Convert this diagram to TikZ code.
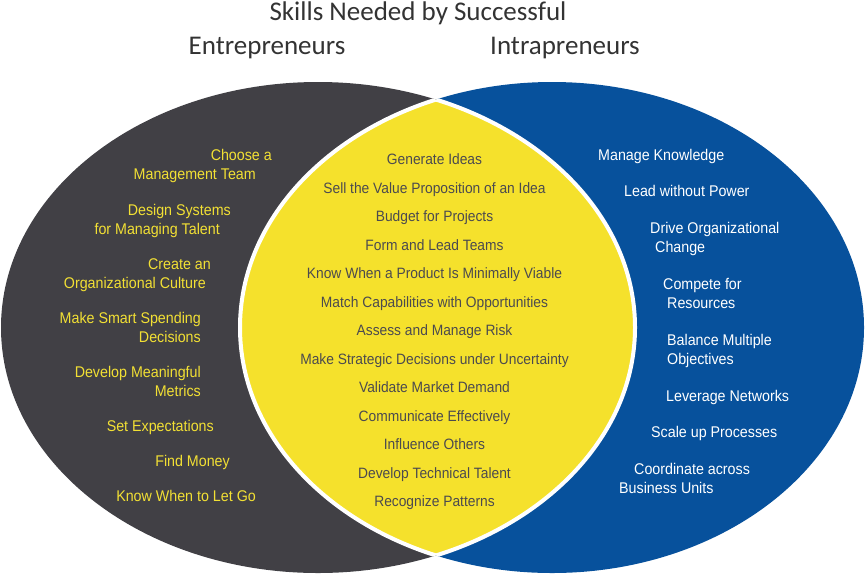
\documentclass[tikz,border=0pt]{standalone}
\usepackage{fontspec}
\setmainfont{Liberation Sans}[FakeStretch=0.92]
\newfontfamily\headfont{Carlito}
\usepackage{xcolor}
\usepackage{tikz}
\definecolor{darkslate}{HTML}{414045}
\definecolor{intrablue}{HTML}{07519C}
\definecolor{lensyellow}{HTML}{F5E12C}
\definecolor{labelyellow}{HTML}{F2E034}
\definecolor{lenstext}{HTML}{4B4A4F}
\definecolor{headgray}{HTML}{333333}

\begin{document}
\begin{tikzpicture}[x=1pt, y=-1pt]
\tikzstyle{heading} = [inner sep=0pt, text=headgray, font=\headfont\fontsize{27}{30}\selectfont]
\tikzstyle{skill}   = [inner sep=0pt, font=\fontsize{15.5}{18}\selectfont]
\tikzstyle{entre}   = [skill, text=labelyellow, anchor=base east]
\tikzstyle{intra}   = [skill, text=white, anchor=base west]
\tikzstyle{both}    = [skill, text=lenstext, anchor=base, font=\fontsize{15}{18}\selectfont]
\useasboundingbox (0,0) rectangle (866,576);
 %%Ovals
\fill[darkslate] (318,327.5) ellipse [x radius=317pt, y radius=245.5pt];
\fill[intrablue] (552,327.5) ellipse [x radius=312pt, y radius=245.5pt];
\begin{scope}
\clip (318,327.5) ellipse [x radius=317pt, y radius=245.5pt];
\fill[lensyellow] (552,327.5) ellipse [x radius=312pt, y radius=245.5pt];
\draw[white, line width=4pt] (552,327.5) ellipse [x radius=312pt, y radius=245.5pt];
\end{scope}
\begin{scope}
\clip (552,327.5) ellipse [x radius=312pt, y radius=245.5pt];
\draw[white, line width=4pt] (318,327.5) ellipse [x radius=317pt, y radius=245.5pt];
\end{scope}
 %%Headings
\node [heading](title) at (418,13) {Skills Needed by Successful};
\node [heading](entr) at (267,48) {Entrepreneurs};
\node [heading](intr) at (565,48) {Intrapreneurs};
 %%Entrepreneurs
\node [entre](e1a) at (272,160.5) {Choose a};
\node [entre](e1b) at (256,179.5) {Management Team};
\node [entre](e2a) at (231,215) {Design Systems};
\node [entre](e2b) at (220,234) {for Managing Talent};
\node [entre](e3a) at (211,269) {Create an};
\node [entre](e3b) at (206,288) {Organizational Culture};
\node [entre](e4a) at (201,323.5) {Make Smart Spending};
\node [entre](e4b) at (201,342.5) {Decisions};
\node [entre](e5a) at (201,377.5) {Develop Meaningful};
\node [entre](e5b) at (201,396.5) {Metrics};
\node [entre](e6) at (214,431.5) {Set Expectations};
\node [entre](e7) at (230,466) {Find Money};
\node [entre](e8) at (256,501) {Know When to Let Go};
 %%Both
\node [both](b1) at (434.5,164.5) {Generate Ideas};
\node [both](b2) at (434.5,193) {Sell the Value Proposition of an Idea};
\node [both](b3) at (434.5,221.5) {Budget for Projects};
\node [both](b4) at (434.5,250) {Form and Lead Teams};
\node [both](b5) at (434.5,278.5) {Know When a Product Is Minimally Viable};
\node [both](b6) at (434.5,307) {Match Capabilities with Opportunities};
\node [both](b7) at (434.5,335.5) {Assess and Manage Risk};
\node [both](b8) at (434.5,364) {Make Strategic Decisions under Uncertainty};
\node [both](b9) at (434.5,392.5) {Validate Market Demand};
\node [both](b10) at (434.5,421) {Communicate Effectively};
\node [both](b11) at (434.5,449.5) {Influence Others};
\node [both](b12) at (434.5,478) {Develop Technical Talent};
\node [both](b13) at (434.5,506.5) {Recognize Patterns};
 %%Intrapreneurs
\node [intra](i1) at (598,160.5) {Manage Knowledge};
\node [intra](i2) at (624,196.5) {Lead without Power};
\node [intra](i3a) at (650,233.5) {Drive Organizational};
\node [intra](i3b) at (655,252.5) {Change};
\node [intra](i4a) at (663,289.5) {Compete for};
\node [intra](i4b) at (667,308.5) {Resources};
\node [intra](i5a) at (667,345.5) {Balance Multiple};
\node [intra](i5b) at (667,364.5) {Objectives};
\node [intra](i6) at (666,401.5) {Leverage Networks};
\node [intra](i7) at (651,437.5) {Scale up Processes};
\node [intra](i8a) at (634,474.5) {Coordinate across};
\node [intra](i8b) at (619,493.5) {Business Units};
\end{tikzpicture}
\end{document}
